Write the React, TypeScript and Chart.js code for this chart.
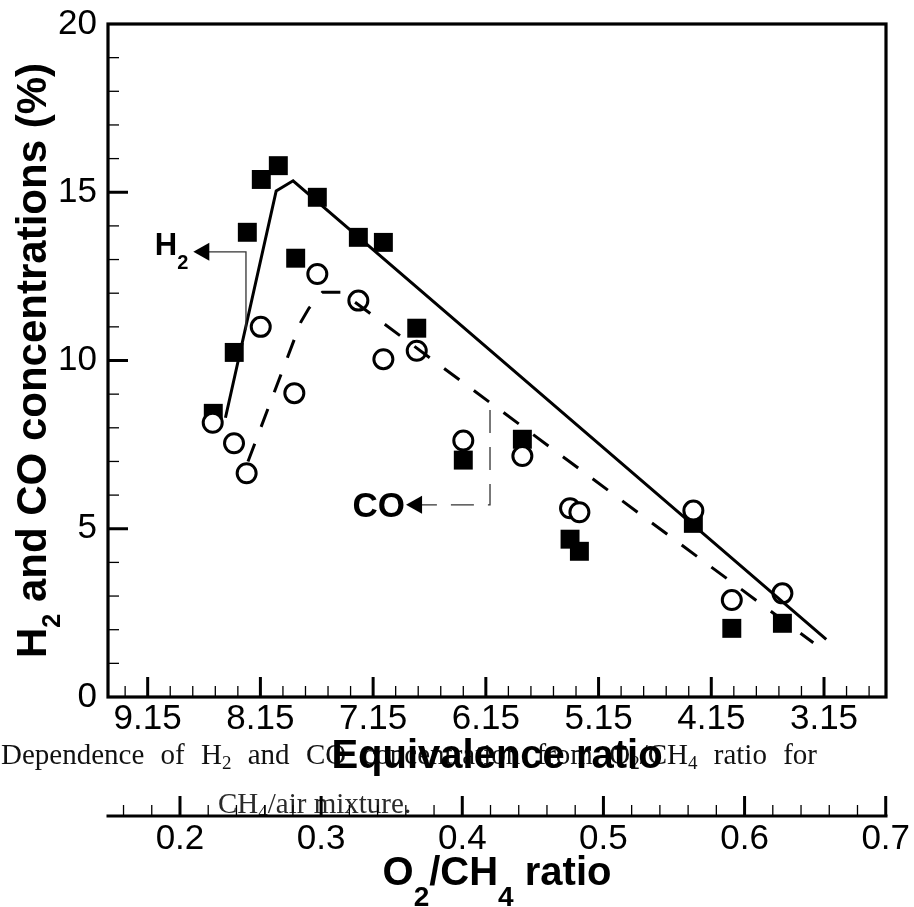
import React, { useEffect, useRef } from "react";
import { Chart, registerables } from "chart.js";

Chart.register(...registerables);

// ---- data ----
const h2X = [8.568, 8.382, 8.266, 8.142, 7.991, 7.837, 7.645, 7.281, 7.059, 6.763, 6.35, 5.826, 5.403, 5.32, 4.309, 3.968, 3.519];
const h2Y = [8.43, 10.24, 13.81, 15.38, 15.79, 13.04, 14.85, 13.66, 13.51, 10.96, 7.04, 7.66, 4.69, 4.33, 5.16, 2.04, 2.19];
const coX = [8.573, 8.384, 8.272, 8.147, 7.849, 7.645, 7.281, 7.059, 6.763, 6.35, 5.826, 5.403, 5.32, 4.309, 3.968, 3.519];
const coY = [8.15, 7.54, 6.65, 11.0, 9.03, 12.57, 11.78, 10.04, 10.29, 7.62, 7.16, 5.61, 5.49, 5.54, 2.88, 3.08];
const h2FitX = [8.46, 8.01, 7.86, 3.13];
const h2FitY = [8.3, 15.04, 15.34, 1.71];
const coFitX = [8.26, 7.79, 7.72, 7.6, 7.43, 3.245];
const coFitY = [7.0, 11.15, 11.55, 12.03, 12.03, 1.61];

const eqTicks = [9.15, 8.15, 7.15, 6.15, 5.15, 4.15, 3.15];
const ratioTicks = [0.2, 0.3, 0.4, 0.5, 0.6, 0.7];
const yTicks = [0, 5, 10, 15, 20];

// annotation anchors (data coordinates)
const h2Note = { tipX: 8.745, tipY: 13.23, elbowX: 8.278, endY: 10.91 };
const coNote = { tipX: 6.858, tipY: 5.71, elbowX: 6.113, startY: 8.53 };

type Seg = { t: string; sub?: boolean };
type Style = { size: number; subSize: number; subDrop: number; weight: string; family: string; color: string };

const SANS = '"Liberation Sans", Arial, Helvetica, sans-serif';
const SERIF = '"Liberation Serif", "Times New Roman", serif';

const yTitle: Seg[] = [{ t: "H" }, { t: "2", sub: true }, { t: " and CO concentrations (%)" }];
const xTitle: Seg[] = [{ t: "Equivalence ratio" }];
const x2Title: Seg[] = [{ t: "O" }, { t: "2", sub: true }, { t: "/CH" }, { t: "4", sub: true }, { t: " ratio" }];
const captionLine1: Seg[][] = [
  [{ t: "Dependence" }],
  [{ t: "of" }],
  [{ t: "H" }, { t: "2", sub: true }],
  [{ t: "and" }],
  [{ t: "CO" }],
  [{ t: "concentration" }],
  [{ t: "from" }],
  [{ t: "O" }, { t: "2", sub: true }, { t: "/CH" }, { t: "4", sub: true }],
  [{ t: "ratio" }],
  [{ t: "for" }],
];
const captionLine2: Seg[] = [{ t: "CH" }, { t: "4", sub: true }, { t: "/air mixture." }];
const h2Label: Seg[] = [{ t: "H" }, { t: "2", sub: true }];
const coLabel: Seg[] = [{ t: "CO" }];

function setFont(ctx: CanvasRenderingContext2D, st: Style, sub?: boolean) {
  ctx.font = `${st.weight} ${sub ? st.subSize : st.size}px ${st.family}`;
}
function segsWidth(ctx: CanvasRenderingContext2D, segs: Seg[], st: Style) {
  let w = 0;
  for (const s of segs) {
    setFont(ctx, st, s.sub);
    w += ctx.measureText(s.t).width;
  }
  return w;
}
function drawSegs(ctx: CanvasRenderingContext2D, segs: Seg[], x: number, y: number, st: Style) {
  let cx = x;
  ctx.fillStyle = st.color;
  ctx.textAlign = "left";
  ctx.textBaseline = "alphabetic";
  for (const s of segs) {
    setFont(ctx, st, s.sub);
    ctx.fillText(s.t, cx, s.sub ? y + st.subDrop : y);
    cx += ctx.measureText(s.t).width;
  }
  return cx;
}

const decorPlugin = {
  id: "decor",
  beforeDraw(chart: any) {
    const ctx: CanvasRenderingContext2D = chart.ctx;
    ctx.save();
    ctx.fillStyle = "#fff";
    ctx.fillRect(0, 0, chart.width, chart.height);
    // caption (behind everything)
    const cap: Style = { size: 29, subSize: 19, subDrop: 5, weight: "normal", family: SERIF, color: "#111" };
    const widths = captionLine1.map((w) => segsWidth(ctx, w, cap));
    const total = widths.reduce((a, b) => a + b, 0);
    const startX = 1, endX = 817;
    const gap = (endX - startX - total) / (captionLine1.length - 1);
    let cx = startX;
    captionLine1.forEach((w, i) => {
      drawSegs(ctx, w, cx, 764, cap);
      cx += widths[i] + gap;
    });
    ctx.save();
    ctx.beginPath();
    ctx.rect(0, 780, chart.width, 35);
    ctx.clip();
    drawSegs(ctx, captionLine2, 218, 813, { ...cap, color: "#2a2a2a" });
    ctx.restore();
    ctx.restore();
  },
  afterDraw(chart: any) {
    const ctx: CanvasRenderingContext2D = chart.ctx;
    const { left, right, top, bottom } = chart.chartArea;
    const x = chart.scales.x, y = chart.scales.y, x2 = chart.scales.x2;
    ctx.save();
    ctx.strokeStyle = "#000";
    ctx.lineCap = "butt";
    // frame
    ctx.lineWidth = 3.2;
    ctx.strokeRect(left, top, right - left, bottom - top);
    // secondary axis line
    ctx.beginPath();
    ctx.moveTo(x2.left - 1.5, x2.top);
    ctx.lineTo(x2.right + 1.5, x2.top);
    ctx.stroke();

    const tick = (x0: number, y0: number, x1: number, y1: number, w: number) => {
      ctx.lineWidth = w;
      ctx.beginPath();
      ctx.moveTo(x0, y0);
      ctx.lineTo(x1, y1);
      ctx.stroke();
    };
    // x ticks (inward, up from bottom)
    for (let k = -2; k <= 32; k++) {
      const v = 9.15 - k * 0.2;
      if (v < x.min - 1e-6 || v > x.max + 1e-6) continue;
      const p = x.getPixelForValue(v);
      const major = k % 5 === 0;
      tick(p, bottom, p, bottom - (major ? 20 : 11), major ? 3 : 1.3);
    }
    // y ticks (inward, right from left)
    for (let v = 1; v < 20; v++) {
      const p = y.getPixelForValue(v);
      const major = v % 5 === 0;
      tick(left, p, left + (major ? 20 : 11), p, major ? 3 : 1.3);
    }
    // x2 ticks (upward)
    for (let k = -3; k <= 25; k++) {
      const v = 0.2 + k * 0.02;
      if (v < x2.min - 1e-6 || v > x2.max + 1e-6) continue;
      const p = x2.getPixelForValue(v);
      const major = k % 5 === 0;
      tick(p, x2.top, p, x2.top - (major ? 20 : 11), major ? 3 : 1.3);
    }

    // titles
    const ytSt: Style = { size: 42, subSize: 25, subDrop: 14, weight: "bold", family: SANS, color: "#000" };
    const yw = segsWidth(ctx, yTitle, ytSt);
    ctx.save();
    ctx.translate(46, (top + bottom) / 2);
    ctx.rotate(-Math.PI / 2);
    drawSegs(ctx, yTitle, -yw / 2, 0, ytSt);
    ctx.restore();

    const xtSt: Style = { size: 40, subSize: 26, subDrop: 14, weight: "bold", family: SANS, color: "#000" };
    const xw = segsWidth(ctx, xTitle, xtSt);
    drawSegs(ctx, xTitle, (left + right) / 2 - xw / 2, 768, xtSt);

    const x2St: Style = { size: 40, subSize: 28, subDrop: 21, weight: "bold", family: SANS, color: "#000" };
    const x2w = segsWidth(ctx, x2Title, x2St);
    drawSegs(ctx, x2Title, (left + right) / 2 - x2w / 2, 885, x2St);

    // annotations
    const arrow = (tx: number, ty: number) => {
      ctx.fillStyle = "#000";
      ctx.beginPath();
      ctx.moveTo(tx, ty);
      ctx.lineTo(tx + 16, ty - 9);
      ctx.lineTo(tx + 16, ty + 9);
      ctx.closePath();
      ctx.fill();
    };
    // H2
    {
      const tx = x.getPixelForValue(h2Note.tipX), ty = y.getPixelForValue(h2Note.tipY);
      const ex = x.getPixelForValue(h2Note.elbowX), ey = y.getPixelForValue(h2Note.endY);
      ctx.strokeStyle = "#333";
      ctx.lineWidth = 1.3;
      ctx.setLineDash([]);
      ctx.beginPath();
      ctx.moveTo(tx + 14, ty);
      ctx.lineTo(ex, ty);
      ctx.lineTo(ex, ey);
      ctx.stroke();
      arrow(tx, ty);
      const st: Style = { size: 31, subSize: 20, subDrop: 14, weight: "bold", family: SANS, color: "#000" };
      const w = segsWidth(ctx, h2Label, st);
      drawSegs(ctx, h2Label, tx - 5 - w, ty + 3.5, st);
    }
    // CO
    {
      const tx = x.getPixelForValue(coNote.tipX), ty = y.getPixelForValue(coNote.tipY);
      const ex = x.getPixelForValue(coNote.elbowX), sy = y.getPixelForValue(coNote.startY);
      ctx.strokeStyle = "#333";
      ctx.lineWidth = 1.3;
      ctx.setLineDash([23, 14]);
      ctx.beginPath();
      ctx.moveTo(ex, sy);
      ctx.lineTo(ex, ty);
      ctx.lineTo(tx + 14, ty);
      ctx.stroke();
      ctx.setLineDash([]);
      arrow(tx, ty);
      const st: Style = { size: 35, subSize: 20, subDrop: 10, weight: "bold", family: SANS, color: "#000" };
      const w = segsWidth(ctx, coLabel, st);
      drawSegs(ctx, coLabel, tx - 1 - w, ty + 12, st);
    }
    ctx.restore();
  },
};

export default function App() {
  const ref = useRef<HTMLCanvasElement | null>(null);
  useEffect(() => {
    if (!ref.current) return;
    const tickFont = { family: SANS, size: 35, lineHeight: 1.2 };
    const chart = new Chart(ref.current, {
      type: "scatter",
      data: {
        datasets: [
          {
            type: "line",
            label: "H2 fit",
            data: h2FitX.map((v, i) => ({ x: v, y: h2FitY[i] })),
            borderColor: "#000",
            borderWidth: 3,
            pointRadius: 0,
            fill: false,
            tension: 0,
            order: 1,
          } as any,
          {
            type: "line",
            label: "CO fit",
            data: coFitX.map((v, i) => ({ x: v, y: coFitY[i] })),
            borderColor: "#000",
            borderWidth: 3,
            borderDash: [19, 18],
            pointRadius: 0,
            fill: false,
            tension: 0,
            order: 2,
          } as any,
          {
            type: "scatter",
            label: "CO",
            data: coX.map((v, i) => ({ x: v, y: coY[i] })),
            pointStyle: "circle",
            pointRadius: 9.5,
            pointBorderWidth: 3,
            pointBackgroundColor: "#fff",
            pointBorderColor: "#000",
            order: 3,
          } as any,
          {
            type: "scatter",
            label: "H2",
            data: h2X.map((v, i) => ({ x: v, y: h2Y[i] })),
            pointStyle: "rect",
            pointRadius: 13.4,
            pointBorderWidth: 0,
            pointBackgroundColor: "#000",
            pointBorderColor: "#000",
            order: 4,
          } as any,
        ],
      },
      options: {
        animation: false,
        responsive: false,
        events: [],
        layout: { padding: { left: 0, top: 24, right: 28, bottom: 0 } },
        plugins: { legend: { display: false }, tooltip: { enabled: false } },
        scales: {
          x: {
            type: "linear",
            axis: "x",
            position: "bottom",
            reverse: true,
            min: 2.6,
            max: 9.502,
            weight: 0,
            grid: { display: false, drawTicks: false },
            border: { display: false },
            ticks: {
              font: tickFont,
              color: "#000",
              padding: 1,
              maxRotation: 0,
              autoSkip: false,
              callback: (v: any) => Number(v).toFixed(2),
            },
            afterBuildTicks: (s: any) => {
              s.ticks = eqTicks.map((v) => ({ value: v }));
            },
            afterFit: (s: any) => {
              s.height = 119;
              s.paddingLeft = 0;
              s.paddingRight = 0;
              s.paddingTop = 0;
              s.paddingBottom = 0;
            },
          },
          x2: {
            type: "linear",
            axis: "x",
            position: "bottom",
            min: 0.149,
            max: 0.7002,
            weight: 1,
            grid: { display: false, drawTicks: false },
            border: { display: false },
            ticks: {
              font: tickFont,
              color: "#000",
              padding: 2,
              maxRotation: 0,
              autoSkip: false,
              callback: (v: any) => Number(v).toFixed(1),
            },
            afterBuildTicks: (s: any) => {
              s.ticks = ratioTicks.map((v) => ({ value: v }));
            },
            afterFit: (s: any) => {
              s.height = 91;
              s.paddingLeft = 0;
              s.paddingRight = 0;
              s.paddingTop = 0;
              s.paddingBottom = 0;
            },
          },
          y: {
            type: "linear",
            axis: "y",
            position: "left",
            min: 0,
            max: 20,
            grid: { display: false, drawTicks: false },
            border: { display: false },
            ticks: {
              font: tickFont,
              color: "#000",
              padding: 11,
              autoSkip: false,
              callback: (v: any) => String(v),
            },
            afterBuildTicks: (s: any) => {
              s.ticks = yTicks.map((v) => ({ value: v }));
            },
            afterFit: (s: any) => {
              s.width = 108;
              s.paddingLeft = 0;
              s.paddingRight = 0;
              s.paddingTop = 0;
              s.paddingBottom = 0;
            },
          },
        },
      } as any,
      plugins: [decorPlugin],
    });
    return () => chart.destroy();
  }, []);
  return (
    <div style={{ position: "absolute", left: 0, top: 0, width: 914, height: 907 }}>
      <canvas ref={ref} width={914} height={907} style={{ display: "block" }} />
    </div>
  );
}
